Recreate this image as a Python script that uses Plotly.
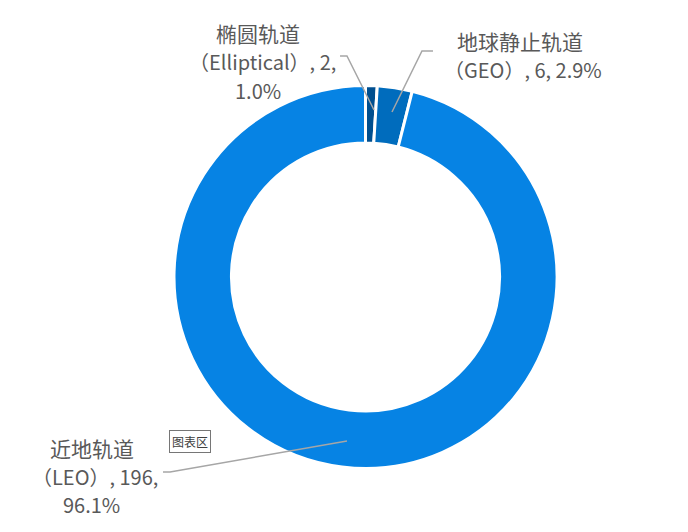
import plotly.graph_objects as go

# orbit types, satellite counts
names_cn = ["椭圆轨道", "地球静止轨道", "近地轨道"]
names_en = ["Elliptical", "GEO", "LEO"]
counts = [2, 6, 196]
shares = ["1.0%", "2.9%", "96.1%"]
colors = ["#004F8F", "#006CBD", "#0683E4"]

W, H = 688, 532
OFF = 8  # page body margin


def px(x, y):
    return (x - OFF) / W, 1 - (y - OFF) / H


x0, y0 = px(174, 471)
x1, y1 = px(557, 83)

fig = go.Figure(
    go.Pie(
        labels=[c + "（" + e + "）" for c, e in zip(names_cn, names_en)],
        values=counts,
        hole=0.70,
        sort=False,
        direction="clockwise",
        rotation=0,
        marker=dict(colors=colors, line=dict(color="white", width=3)),
        textinfo="none",
        hoverinfo="label+value+percent",
        domain=dict(x=[x0, x1], y=[y0, y1]),
        showlegend=False,
    )
)

FONT = "Microsoft YaHei, Noto Sans CJK SC, sans-serif"

# data label lines: (text, size, x, y) in pixels, centred
label_lines = [
    (names_cn[0], 21, 258, 33),
    ("（%s）, %d," % (names_en[0], counts[0]), 20, 262, 62),
    (shares[0], 20, 258, 90),
    (names_cn[1], 21, 520, 41),
    ("（%s）, %d, %s" % (names_en[1], counts[1], shares[1]), 20, 523, 70),
    (names_cn[2], 21, 92, 448),
    ("（%s）, %d," % (names_en[2], counts[2]), 20, 95, 476),
    (shares[2], 20, 91, 504),
]
annotations = []
for t, s, x, y in label_lines:
    ax, ay = px(x, y)
    annotations.append(
        dict(text=t, x=ax, y=ay, xref="paper", yref="paper", showarrow=False,
             font=dict(family=FONT, size=s, color="#595959"),
             xanchor="center", yanchor="middle")
    )

# Excel chart-area tooltip
tx, ty = px(169, 453)
annotations.append(
    dict(text="图表区", x=tx, y=ty, xref="paper", yref="paper", showarrow=False,
         font=dict(family="Noto Sans CJK SC", size=12, color="#404040"),
         bgcolor="white", bordercolor="#767676", borderwidth=1, borderpad=2)
)

# leader lines
leaders = [
    [(340, 56), (347, 56), (374, 110)],
    [(433, 51), (422, 51), (392, 112)],
    [(163, 472), (170, 472), (347, 441)],
]
shapes = []
for pts in leaders:
    path = "M " + " L ".join("%.4f,%.4f" % px(x, y) for x, y in pts)
    shapes.append(dict(type="path", path=path, xref="paper", yref="paper",
                       line=dict(color="#A6A6A6", width=1.5)))

fig.update_layout(
    width=W,
    height=H,
    margin=dict(l=0, r=0, t=0, b=0),
    paper_bgcolor="white",
    plot_bgcolor="white",
    annotations=annotations,
    shapes=shapes,
)

fig.write_html("out.html")
